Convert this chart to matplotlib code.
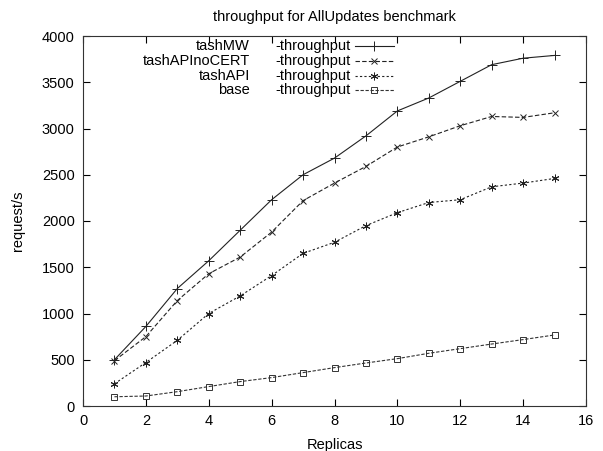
import matplotlib
matplotlib.use("Agg")
import matplotlib.pyplot as plt
from matplotlib.lines import Line2D

plt.rcParams['font.family'] = ['Liberation Sans', 'DejaVu Sans']

replicas = list(range(1, 16))
tashMW = [500, 860, 1270, 1570, 1900, 2230, 2500, 2680, 2920, 3190, 3330, 3510, 3690, 3760, 3790]
tashAPInoCERT = [490, 750, 1140, 1430, 1610, 1880, 2220, 2410, 2590, 2800, 2910, 3030, 3130, 3120, 3170]
tashAPI = [240, 470, 710, 1000, 1190, 1410, 1650, 1770, 1950, 2090, 2200, 2230, 2370, 2410, 2460]
base = [100, 108, 155, 210, 264, 307, 361, 415, 465, 512, 570, 620, 670, 718, 768]

names = ['tashMW', 'tashAPInoCERT', 'tashAPI', 'base']
fig = plt.figure(figsize=(6.03, 4.51), dpi=100)
ax = fig.add_axes([83/603, 45/451, 503/603, 370/451])

styles = [
    dict(color='#222222', linestyle='-', marker='+', ms=6.5, mew=0.7),
    dict(color='#222222', linestyle=(0, (4, 2)), marker='x', ms=4.5, mew=0.7),
    dict(color='#222222', linestyle=(0, (2, 2)), marker=(6, 2, 0), ms=5.5, mew=0.7),
    dict(color='#333333', linestyle=(0, (3, 1.5)), marker='s', ms=4.5, mew=0.7, mfc='none'),
]
series = [tashMW, tashAPInoCERT, tashAPI, base]
for s, st in zip(series, styles):
    ax.plot(replicas, s, lw=0.8, **st)

fs = 10.5
ax.set_xlim(0, 16)
ax.set_ylim(0, 4000)
ax.set_xticks(range(0, 17, 2))
ax.set_yticks(range(0, 4001, 500))
ax.tick_params(direction='in', length=5, top=True, right=True, labelsize=fs, width=0.8, pad=6)
for sp in ax.spines.values():
    sp.set_linewidth(0.8)
    sp.set_color('#333333')

ax.set_title('throughput for AllUpdates benchmark', fontsize=fs, pad=11)
ax.set_xlabel('Replicas', fontsize=fs, labelpad=7)
ax.set_ylabel('request/s', fontsize=fs, labelpad=12)

# gnuplot-style key
rows = [0.973, 0.932, 0.893, 0.853]
for name, st, yf in zip(names, styles, rows):
    ax.text(0.332, yf, name, transform=ax.transAxes, ha='right', va='center', fontsize=fs)
    ax.text(0.382, yf, '-throughput', transform=ax.transAxes, ha='left', va='center', fontsize=fs)
    ln = Line2D([0.541, 0.618], [yf, yf], transform=ax.transAxes, lw=0.8,
                color=st['color'], linestyle=st['linestyle'])
    ax.add_line(ln)
    mk = Line2D([0.5795], [yf], transform=ax.transAxes, linestyle='none',
                marker=st['marker'], ms=st['ms'], mew=st['mew'], color=st['color'],
                mfc=st.get('mfc', st['color']))
    ax.add_line(mk)

fig.savefig('out.png', dpi=100)
